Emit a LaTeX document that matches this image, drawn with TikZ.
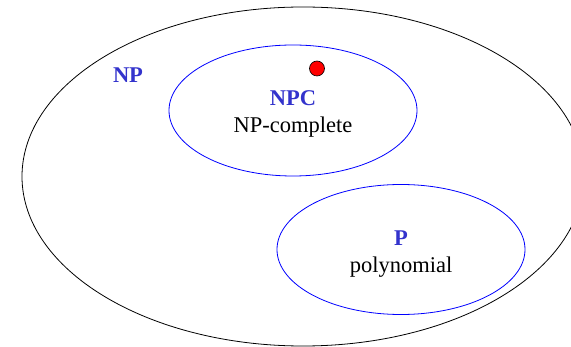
\documentclass[tikz,border=0pt]{standalone}
\usepackage{fontspec}
\setmainfont{Liberation Serif}
\usetikzlibrary{shapes.geometric}
\definecolor{txtblue}{RGB}{51,51,204}
\begin{document}
\begin{tikzpicture}[x=1pt,y=-1pt,
  setshape/.style={ellipse, draw, inner sep=0pt, line width=0.8pt},
  inner/.style={setshape, draw=blue},
  settitle/.style={font=\fontsize{22.5}{26}\selectfont\bfseries, text=txtblue, inner sep=0pt},
  setlabel/.style={font=\fontsize{22.5}{26}\selectfont, text=black, inner sep=0pt}]
\useasboundingbox (0,0) rectangle (571,347);
\clip (0,0) rectangle (571,347);
\node[setshape, draw=black, minimum width=562pt, minimum height=339pt] (np) at (303,176.5) {};
\node[inner, minimum width=248pt, minimum height=131pt] (npc) at (293,110.5) {};
\node[inner, minimum width=248pt, minimum height=130pt] (p) at (401,249.5) {};
\node[settitle] (nplab) at (128,75) {NP};
\node[settitle] (npclab) at (293,98) {NPC};
\node[setlabel] (npcdesc) at (293,127) {NP-complete};
\node[settitle] (plab) at (401,238) {P};
\node[setlabel] (pdesc) at (401,267) {polynomial};
\node[circle, fill=red, draw=black, line width=0.6pt, minimum size=15pt, inner sep=0pt] (dot) at (317,68.5) {};
\end{tikzpicture}
\end{document}
